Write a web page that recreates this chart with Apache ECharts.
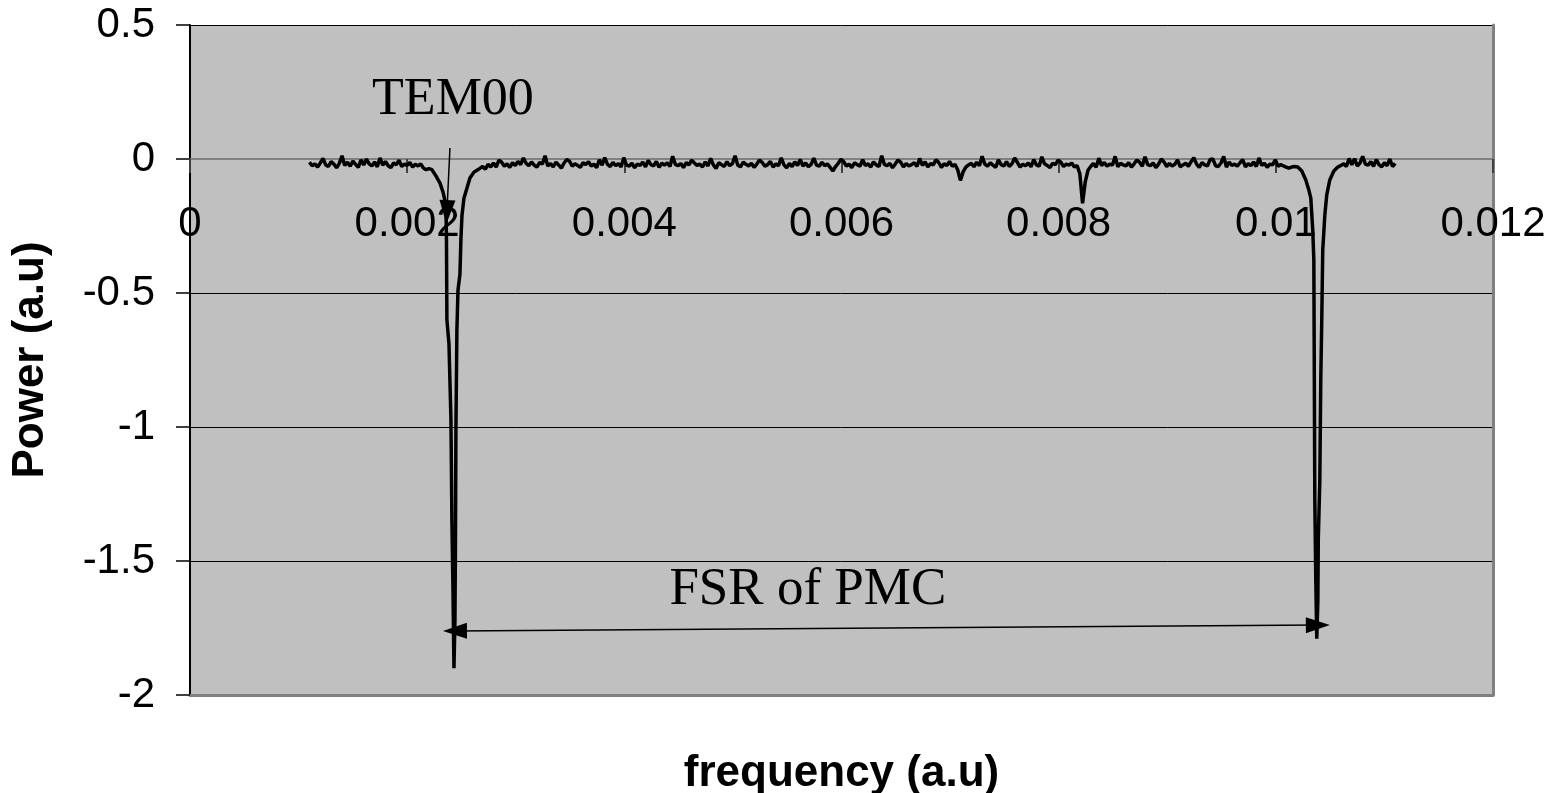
<!DOCTYPE html>
<html>
<head>
<meta charset="utf-8">
<script src="https://cdn.jsdelivr.net/npm/echarts@6/dist/echarts.min.js"></script>
<style>
html,body{margin:0;padding:0;background:#fff;}
#chart{width:1558px;height:793px;}
</style>
</head>
<body>
<div id="chart"></div>
<script>
// ---- data ----
const xTicks = [0, 0.002, 0.004, 0.006, 0.008, 0.01, 0.012];
const yTicks = [-2, -1.5, -1, -0.5, 0, 0.5];
const sampleStep = 0.000025;

const leftNoiseStart = 0.00110;
const leftNoise = [
-0.012,-0.025,-0.018,-0.030,-0.015,0.002,-0.022,-0.028,-0.010,-0.019,
-0.033,-0.016,0.012,-0.024,-0.012,-0.027,-0.008,-0.020,-0.031,-0.003,
-0.022,0.000,-0.018,-0.026,-0.011,-0.029,0.004,-0.023,-0.009,-0.025,
-0.032,-0.015,-0.021,-0.004,-0.028,-0.019,-0.024,-0.013,-0.030,-0.020,
-0.026,-0.018,-0.034,-0.040,-0.036
];

// TEM00 resonance dip: [frequency, power]
const dip1 = [
[0.002228,-0.040],[0.002265,-0.063],[0.002302,-0.090],[0.002330,-0.123],[0.002357,-0.172],
[0.002362,-0.30],[0.002366,-0.60],[0.002385,-0.69],[0.002403,-0.97],[0.002412,-1.35],
[0.002422,-1.61],[0.002431,-1.90],[0.002440,-1.72],[0.002445,-1.42],[0.002449,-1.01],
[0.002458,-0.64],[0.002468,-0.49],[0.002486,-0.43],[0.002495,-0.30],[0.002505,-0.21],
[0.002523,-0.146],[0.002551,-0.108],[0.002578,-0.071],[0.002615,-0.049],[0.002650,-0.040]
];

const midNoiseStart = 0.00267;
const midNoise = [
-0.035,-0.028,-0.038,-0.020,-0.030,-0.015,-0.030,-0.004,-0.012,-0.027,-0.018,-0.031,-0.014,-0.024,-0.009,-0.021,0.004,-0.016,-0.025,-0.011,
-0.023,-0.030,-0.013,-0.019,0.012,-0.026,-0.017,-0.029,-0.012,-0.022,-0.034,-0.015,-0.002,-0.008,-0.027,-0.018,-0.024,-0.031,-0.014,-0.021,
-0.010,-0.026,-0.019,-0.032,-0.003,-0.023,0.005,-0.020,-0.028,-0.013,-0.025,-0.017,-0.030,0.005,-0.022,-0.027,-0.015,-0.033,-0.019,-0.024,
-0.012,-0.029,-0.005,-0.021,-0.026,-0.009,-0.031,-0.016,-0.023,-0.014,-0.028,0.010,-0.020,-0.025,-0.017,-0.032,-0.013,-0.022,-0.004,-0.015,
-0.024,-0.019,-0.030,-0.011,-0.026,0.002,-0.022,-0.035,-0.014,-0.021,-0.028,-0.010,-0.025,-0.017,0.012,-0.023,-0.029,-0.012,-0.020,-0.026,
-0.016,-0.031,-0.019,-0.004,-0.013,-0.027,-0.021,-0.009,-0.030,-0.018,-0.025,0.004,-0.022,-0.033,-0.017,-0.028,-0.011,-0.024,-0.002,-0.026,
-0.015,-0.029,-0.020,0.003,-0.023,-0.027,-0.012,-0.025,-0.018,-0.031,-0.045,-0.028,-0.016,-0.001,-0.010,-0.026,-0.019,-0.032,-0.014,-0.021,
-0.027,-0.003,-0.024,-0.018,-0.030,-0.011,-0.022,-0.028,0.012,-0.020,-0.025,-0.016,-0.033,-0.019,-0.004,-0.012,-0.029,-0.017,-0.026,-0.021,
-0.014,-0.028,0.002,-0.024,-0.011,-0.030,-0.017,-0.022,-0.003,-0.013,-0.031,-0.018,-0.024,-0.009,-0.027,-0.020,-0.040,-0.080,-0.048,-0.030,
-0.022,-0.016,-0.029,-0.012,-0.025,0.010,-0.019,-0.027,-0.014,-0.023,-0.031,-0.003,-0.021,-0.026,-0.010,-0.028,-0.018,0.004,-0.013,-0.030,
-0.020,-0.025,-0.015,-0.029,-0.002,-0.022,-0.027,0.008,-0.018,-0.024,-0.032,-0.016,-0.021,-0.004,-0.012,-0.028,-0.019,-0.023,-0.015,-0.030,
-0.024,-0.055,-0.165,-0.085,-0.042,-0.028,-0.017,-0.031,0.003,-0.025,-0.013,-0.027,-0.019,-0.023,0.010,-0.029,-0.016,-0.022,-0.026,-0.014,
-0.030,-0.018,-0.004,-0.012,-0.027,0.008,-0.021,-0.025,-0.015,-0.032,-0.019,0.000,-0.011,-0.028,-0.017,-0.026,-0.020,-0.003,-0.029,-0.022,
-0.016,-0.027,-0.010,0.005,-0.019,-0.031,-0.013,-0.022,-0.026,-0.002,0.000,-0.025,-0.028,-0.015,0.010,-0.030,-0.012,-0.024,-0.019,-0.027,
-0.014,-0.002,-0.029,-0.017,-0.025,-0.011,-0.028,0.004,-0.024,-0.016,-0.031,-0.019,-0.022,-0.003,-0.027,-0.021,-0.026,-0.030,-0.034,-0.030,
-0.028
];

// second (next FSR) resonance dip
const dip2 = [
[0.010202,-0.030],[0.010239,-0.045],[0.010276,-0.078],[0.010304,-0.116],[0.010322,-0.146],
[0.010340,-0.265],[0.010350,-0.377],[0.010359,-1.27],[0.010368,-1.57],[0.010377,-1.79],
[0.010387,-1.65],[0.010391,-1.42],[0.010405,-1.20],[0.010414,-0.82],[0.010423,-0.60],
[0.010432,-0.34],[0.010451,-0.21],[0.010469,-0.134],[0.010497,-0.078],[0.010534,-0.045],
[0.010571,-0.030]
];

const rightNoiseStart = 0.01060;
const rightNoise = [
-0.024,-0.018,-0.028,0.002,-0.022,0.001,-0.026,-0.015,0.010,-0.019,
-0.023,-0.010,-0.027,-0.002,-0.021,-0.029,-0.014,-0.025,0.000,-0.028,-0.016
];

// annotations (data coordinates)
const temArrow = [[0.002394, 0.041], [0.002366, -0.198]];
const fsrArrow = [[0.002440, -1.761], [0.010387, -1.739]];
const temLabel = {text: 'TEM00', at: [0.002422, 0.22]};
const fsrLabel = {text: 'FSR of PMC', at: [0.005690, -1.608]};

// ---- build trace ----
function noiseSeg(start, vals){ return vals.map((v,i)=>[+(start + i*sampleStep).toFixed(7), v]); }
const trace = [].concat(
  noiseSeg(leftNoiseStart, leftNoise), dip1,
  noiseSeg(midNoiseStart, midNoise), dip2,
  noiseSeg(rightNoiseStart, rightNoise)
);

const SANS = '"Liberation Sans", Arial, sans-serif';
const SERIF = '"Liberation Serif", "Times New Roman", serif';

// pixel distance of the y=0 line above the plot bottom (grid height 670 over a 2.5 range)
const zeroOffset = -670 * (0 - yTicks[0]) / (yTicks[yTicks.length-1] - yTicks[0]);

const chart = echarts.init(document.getElementById('chart'), null, {renderer:'canvas'});
const option = {
  animation: false,
  backgroundColor: '#ffffff',
  grid: {left: 190, right: 65, top: 25, bottom: 98, show: true, backgroundColor: '#c0c0c0', borderWidth: 0,
         containLabel: false, outerBoundsMode: 'none'},
  xAxis: [{
    type: 'value', min: xTicks[0], max: xTicks[xTicks.length-1], interval: xTicks[1]-xTicks[0],
    position: 'bottom', offset: zeroOffset,
    axisLine: {onZero: false, lineStyle: {color: '#808080', width: 2}},
    axisTick: {show: true, length: 14, lineStyle: {color: '#404040', width: 2}},
    axisLabel: {fontFamily: SANS, fontSize: 42, color: '#000', margin: 44, showMinLabel: true, showMaxLabel: true, hideOverlap: false},
    splitLine: {show: false},
    name: 'frequency (a.u)', nameLocation: 'middle', nameGap: 593, nameMoveOverlap: false,
    nameTextStyle: {fontFamily: SANS, fontSize: 44, fontWeight: 'bold', color: '#000'}
  },{
    type: 'value', min: xTicks[0], max: xTicks[xTicks.length-1], position: 'bottom', offset: 0,
    axisLine: {onZero: false, lineStyle: {color: '#808080', width: 3}},
    axisTick: {show: false}, axisLabel: {show: false}, splitLine: {show: false}
  }],
  yAxis: [{
    type: 'value', min: yTicks[0], max: yTicks[yTicks.length-1], interval: yTicks[1]-yTicks[0],
    position: 'left',
    axisLine: {onZero: false, lineStyle: {color: '#000', width: 2}},
    axisTick: {show: true, length: 14, lineStyle: {color: '#000', width: 1.5}},
    axisLabel: {fontFamily: SANS, fontSize: 42, color: '#000', margin: 35, showMinLabel: true, showMaxLabel: true, hideOverlap: false},
    splitLine: {show: true, lineStyle: {color: '#000', width: 1}},
    name: 'Power (a.u)', nameLocation: 'middle', nameGap: 137, nameRotate: 90, nameMoveOverlap: false,
    nameTextStyle: {fontFamily: SANS, fontSize: 44, fontWeight: 'bold', color: '#000'}
  },{
    type: 'value', min: yTicks[0], max: yTicks[yTicks.length-1], position: 'right',
    axisLine: {onZero: false, lineStyle: {color: '#808080', width: 3}},
    axisTick: {show: false}, axisLabel: {show: false}, splitLine: {show: false}
  }],
  series: [{
    type: 'line', xAxisIndex: 0, yAxisIndex: 0,
    data: trace, showSymbol: false, symbol: 'none', smooth: false,
    lineStyle: {color: '#000', width: 3.5, join: 'bevel'}, z: 3,
    markLine: {
      silent: true, symbolSize: [16, 24], precision: 7,
      lineStyle: {color: '#000', width: 1.5, type: 'solid'},
      label: {show: false},
      data: [
        [{coord: temArrow[0], symbol: 'none'}, {coord: temArrow[1], symbol: 'triangle'}],
        [{coord: fsrArrow[0], symbol: 'triangle'}, {coord: fsrArrow[1], symbol: 'triangle'}]
      ]
    }
  }]
};
chart.setOption(option);

function placeLabels(){
  const p1 = chart.convertToPixel({seriesIndex: 0}, temLabel.at);
  const p2 = chart.convertToPixel({seriesIndex: 0}, fsrLabel.at);
  chart.setOption({graphic: [
    {type: 'text', x: p1[0], y: p1[1], z: 10, style: {text: temLabel.text, font: '52px ' + SERIF, fill: '#000', textAlign: 'center', textVerticalAlign: 'middle'}},
    {type: 'text', x: p2[0], y: p2[1], z: 10, style: {text: fsrLabel.text, font: '53px ' + SERIF, fill: '#000', textAlign: 'center', textVerticalAlign: 'middle'}}
  ]});
}
placeLabels();
</script>
</body>
</html>
